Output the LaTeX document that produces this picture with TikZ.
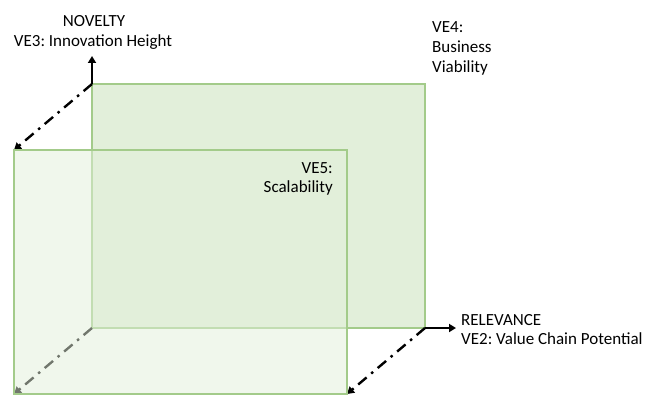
\documentclass[tikz,border=0pt]{standalone}
\usepackage{fontspec}
\setmainfont{Carlito}
\usetikzlibrary{arrows.meta}
\definecolor{panefill}{HTML}{E2EFDA}
\definecolor{paneedge}{HTML}{A3CB8A}
\tikzset{
  pane/.style={draw=paneedge, line width=1.3pt, fill=panefill},
  axis/.style={line width=2.4pt, -{Triangle[length=7pt,width=8pt]}},
  depth/.style={axis, dash pattern=on 11pt off 6pt on 2.5pt off 6pt},
  lbl/.style={font=\fontsize{17}{20}\selectfont, inner sep=0pt}
}
\begin{document}
\frenchspacing
\begin{tikzpicture}[x=1pt,y=-1pt]
\useasboundingbox (0,0) rectangle (647,398);
% corners of the rear pane
\coordinate (bTL) at (92,84);
\coordinate (bTR) at (425,84);
\coordinate (bBL) at (92,328);
\coordinate (bBR) at (425,328);
% corners of the front pane
\coordinate (fTL) at (14,150);
\coordinate (fBL) at (14,394);
\coordinate (fBR) at (347,394);
% axis end points
\coordinate (up) at (92,56);
\coordinate (right) at (456,328);

% rear pane
\draw[pane] (bTL) rectangle (bBR);

% axes
\draw[axis] (bTL) -- (up);
\draw[axis] (bBR) -- (right);
\draw[depth] (bTL) -- (fTL);
\draw[depth] (bBR) -- (fBR);
\draw[depth] (bBL) -- (fBL);

% front pane, see-through
\draw[pane, fill opacity=0.5] (fTL) rectangle (fBR);

% labels, one node per line
\node[lbl, anchor=base] (nov1) at (94,27) {NOVELTY};
\node[lbl, anchor=base] (nov2) at (93,47) {VE3: Innovation Height};
\node[lbl, anchor=base west] (ve4a) at (432,33) {VE4:};
\node[lbl, anchor=base west] (ve4b) at (432,53) {Business};
\node[lbl, anchor=base west] (ve4c) at (432,73) {Viability};
\node[lbl, anchor=base east] (ve5a) at (333,173) {VE5:};
\node[lbl, anchor=base east] (ve5b) at (333,193) {Scalability};
\node[lbl, anchor=base west] (rel1) at (461,325) {RELEVANCE};
\node[lbl, anchor=base west] (rel2) at (461,344) {VE2: Value Chain Potential};
\end{tikzpicture}
\end{document}
